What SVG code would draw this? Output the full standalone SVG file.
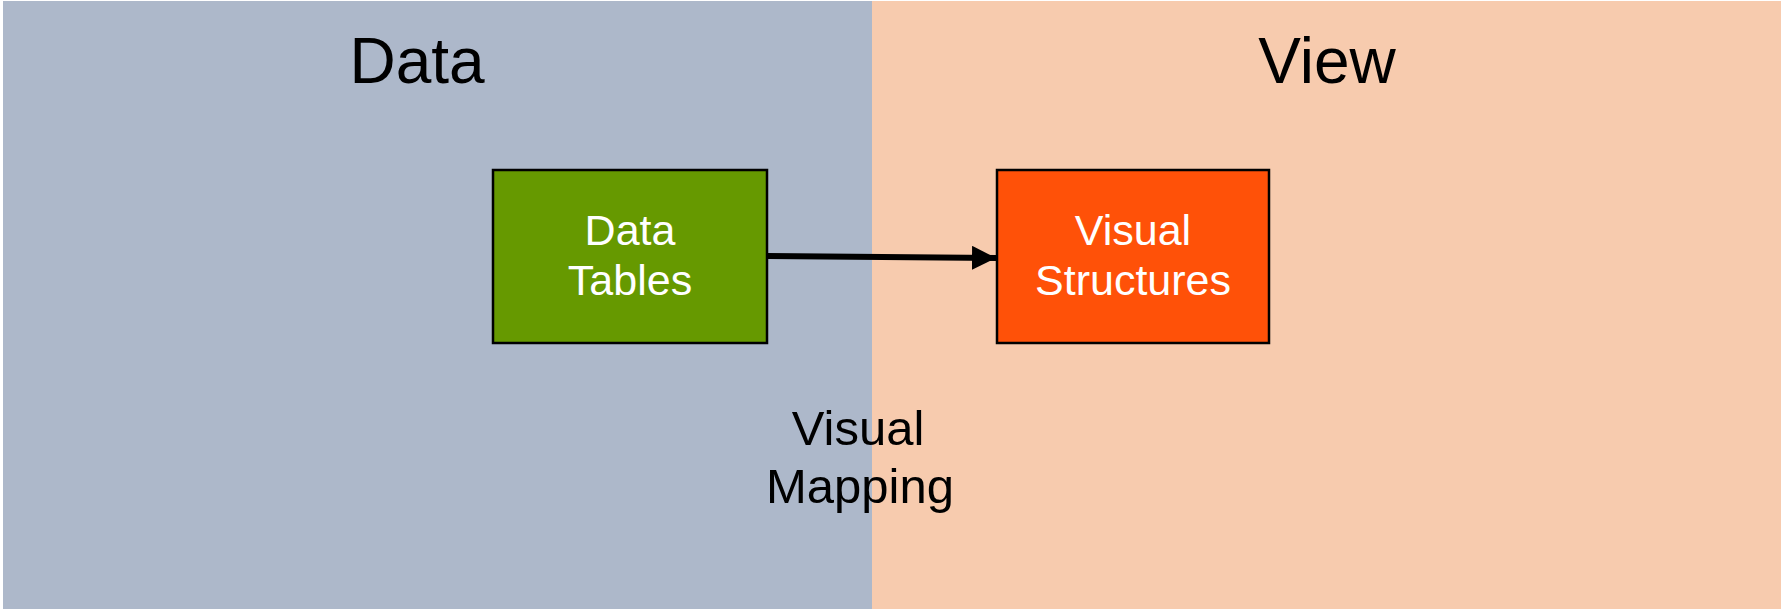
<svg xmlns="http://www.w3.org/2000/svg" width="1781" height="609" viewBox="0 0 1781 609">
<style>
.t{font-family:"Liberation Sans",Arial,sans-serif;text-anchor:middle}
.title{font-size:64px;fill:#000}
.lbl{font-size:43px;fill:#fff}
.map{font-size:49px;fill:#000}
.box{stroke:#000;stroke-width:2.5}
</style>
<defs>
<marker id="ah" markerWidth="4" markerHeight="4" refX="4" refY="2" orient="auto" markerUnits="strokeWidth">
<path d="M0,0 L4,2 L0,4 Z" fill="#000"/>
</marker>
</defs>
<rect width="1781" height="609" fill="#fff"/>
<g id="panel-data">
<rect x="3" y="1" width="869" height="608" fill="#ADB8CA"/>
<text class="t title" x="417" y="83">Data</text>
</g>
<g id="panel-view">
<rect x="872" y="1" width="909" height="608" fill="#F7CBAE"/>
<text class="t title" x="1327" y="83">View</text>
</g>
<g id="connectors">
<line x1="768" y1="256" x2="996" y2="258" stroke="#000" stroke-width="6" marker-end="url(#ah)"/>
<text class="t map" x="858" y="445">Visual</text>
<text class="t map" x="860" y="503">Mapping</text>
</g>
<g id="node-data-tables">
<rect class="box" x="493" y="170" width="274" height="173" fill="#669900"/>
<text class="t lbl" x="630" y="245">Data</text>
<text class="t lbl" x="630" y="295">Tables</text>
</g>
<g id="node-visual-structures">
<rect class="box" x="997" y="170" width="272" height="173" fill="#FF5108"/>
<text class="t lbl" x="1133" y="245">Visual</text>
<text class="t lbl" x="1133" y="295">Structures</text>
</g>
</svg>
